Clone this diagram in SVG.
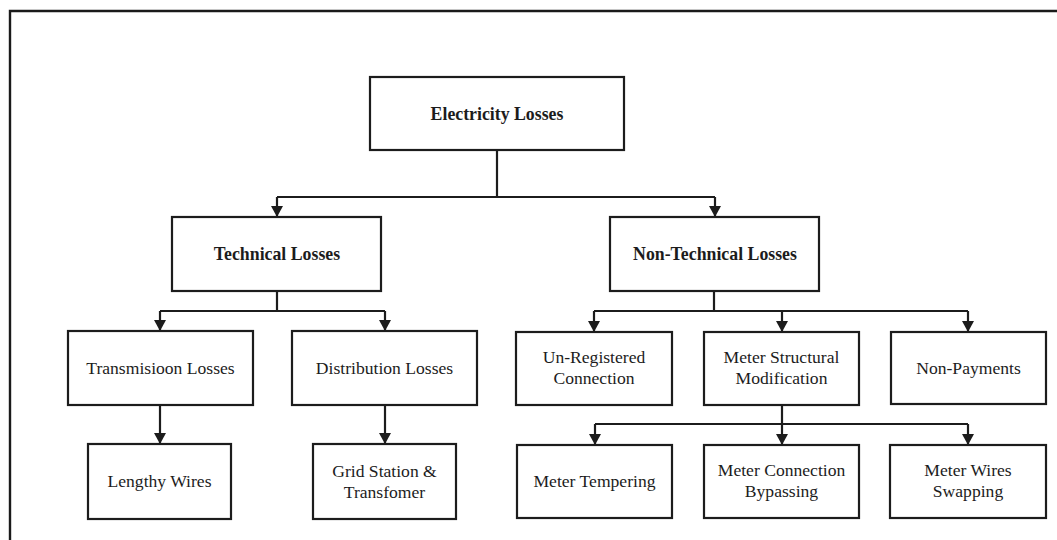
<svg xmlns="http://www.w3.org/2000/svg" width="1057" height="540" viewBox="0 0 1057 540">
<style>
.box{fill:#fff;stroke:#1c1c1c;stroke-width:2.2}
.t{font-family:"Liberation Serif","Times New Roman",serif;font-size:17.6px;fill:#1c1c1c;text-anchor:middle}
.b{font-weight:bold;font-size:17.8px}
.ln{fill:none;stroke:#1c1c1c;stroke-width:2.2}
.frame{fill:none;stroke:#1a1a1a;stroke-width:2.4}
</style>
<defs>
<marker id="ah" viewBox="0 -6 11 12" refX="11" refY="0" markerWidth="11" markerHeight="12" markerUnits="userSpaceOnUse" orient="auto">
<path d="M0,-6 L11,0 L0,6 z" fill="#1c1c1c"/>
</marker>
</defs>
<rect width="1057" height="540" fill="#fff"/>
<path class="frame" d="M10,540 V11 H1057"/>
<g id="connectors">
<path class="ln" d="M497,150 V197 M277,197 H715"/>
<path class="ln" d="M277,197 V217" marker-end="url(#ah)"/>
<path class="ln" d="M715,197 V217" marker-end="url(#ah)"/>
<path class="ln" d="M277,291 V311 M160,311 H385"/>
<path class="ln" d="M160,311 V331" marker-end="url(#ah)"/>
<path class="ln" d="M385,311 V331" marker-end="url(#ah)"/>
<path class="ln" d="M160,405 V444" marker-end="url(#ah)"/>
<path class="ln" d="M385,405 V444" marker-end="url(#ah)"/>
<path class="ln" d="M714,291 V311 M594,311 H968"/>
<path class="ln" d="M594,311 V332" marker-end="url(#ah)"/>
<path class="ln" d="M782,311 V332" marker-end="url(#ah)"/>
<path class="ln" d="M968,311 V332" marker-end="url(#ah)"/>
<path class="ln" d="M782,405 V424 M595,424 H968"/>
<path class="ln" d="M595,424 V445" marker-end="url(#ah)"/>
<path class="ln" d="M782,424 V445" marker-end="url(#ah)"/>
<path class="ln" d="M968,424 V445" marker-end="url(#ah)"/>
</g>
<g id="electricity-losses">
<rect class="box" x="370" y="77" width="254" height="73"/>
<text class="t b" x="497" y="120">Electricity Losses</text>
</g>
<g id="technical-losses">
<rect class="box" x="172" y="217" width="209" height="74"/>
<text class="t b" x="277" y="260">Technical Losses</text>
</g>
<g id="non-technical-losses">
<rect class="box" x="610" y="217" width="209" height="74"/>
<text class="t b" x="715" y="260">Non-Technical Losses</text>
</g>
<g id="transmission-losses">
<rect class="box" x="68" y="331" width="185" height="74"/>
<text class="t" x="160.5" y="374">Transmisioon Losses</text>
</g>
<g id="distribution-losses">
<rect class="box" x="292" y="331" width="185" height="74"/>
<text class="t" x="384.5" y="374">Distribution Losses</text>
</g>
<g id="lengthy-wires">
<rect class="box" x="88" y="444" width="143" height="75"/>
<text class="t" x="159.5" y="487">Lengthy Wires</text>
</g>
<g id="grid-station">
<rect class="box" x="313" y="444" width="143" height="75"/>
<text class="t" x="384.5" y="477">Grid Station &amp;</text>
<text class="t" x="384.5" y="498">Transfomer</text>
</g>
<g id="unregistered-connection">
<rect class="box" x="516" y="332" width="156" height="73"/>
<text class="t" x="594" y="363">Un-Registered</text>
<text class="t" x="594" y="383.5">Connection</text>
</g>
<g id="meter-structural-modification">
<rect class="box" x="704" y="332" width="155" height="73"/>
<text class="t" x="781.5" y="363">Meter Structural</text>
<text class="t" x="781.5" y="383.5">Modification</text>
</g>
<g id="non-payments">
<rect class="box" x="891" y="332" width="155" height="72"/>
<text class="t" x="968.5" y="374">Non-Payments</text>
</g>
<g id="meter-tempering">
<rect class="box" x="517" y="445" width="155" height="73"/>
<text class="t" x="594.5" y="487">Meter Tempering</text>
</g>
<g id="meter-connection-bypassing">
<rect class="box" x="704" y="445" width="155" height="73"/>
<text class="t" x="781.5" y="476">Meter Connection</text>
<text class="t" x="781.5" y="497">Bypassing</text>
</g>
<g id="meter-wires-swapping">
<rect class="box" x="890" y="445" width="156" height="73"/>
<text class="t" x="968" y="476">Meter Wires</text>
<text class="t" x="968" y="497">Swapping</text>
</g>
</svg>
